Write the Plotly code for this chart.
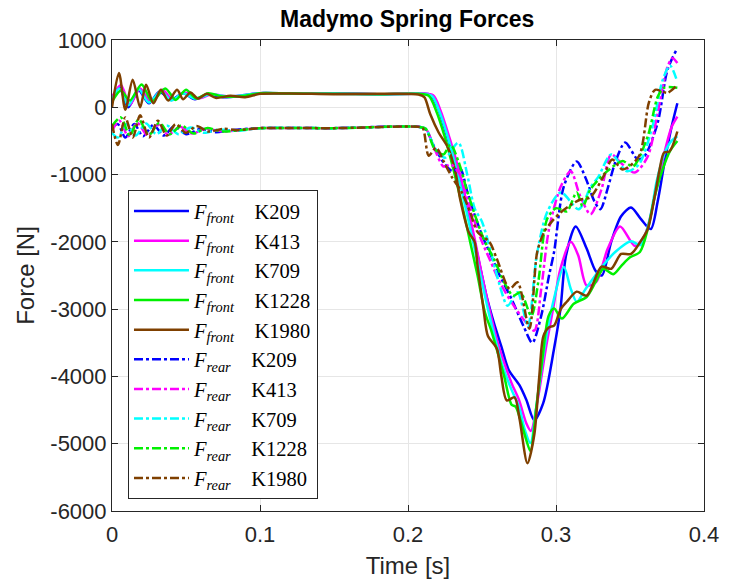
import plotly.graph_objects as go

# ---------------- data ----------------
labels = ["K209", "K413", "K709", "K1228", "K1980"]
colors = ["rgb(0,0,255)", "rgb(255,0,255)", "rgb(0,255,255)", "rgb(0,240,0)", "rgb(127,64,0)"]

# front spring forces (solid)
t_front_k209 = [0, 0.005, 0.011, 0.018, 0.025, 0.032, 0.04, 0.048, 0.056, 0.065, 0.075, 0.09, 0.1, 0.12, 0.15, 0.18, 0.207,
                0.215, 0.22, 0.226, 0.232, 0.238, 0.243, 0.248, 0.253, 0.258, 0.263, 0.268, 0.2753, 0.28, 0.2853, 0.2913,
                0.2987, 0.303, 0.3067, 0.3133, 0.3207, 0.3267, 0.331, 0.3373, 0.344, 0.3507, 0.357, 0.364, 0.3687, 0.3733, 0.378, 0.382]
f_front_k209 = [100, 300, 0, 250, 60, 230, 110, 210, 120, 190, 150, 180, 210, 200, 205, 195, 200,
                190, 0, -400, -850, -1300, -1800, -2300, -2800, -3200, -3550, -3900, -4130, -4350, -4650, -4400,
                -3585, -3000, -2210, -1770, -2100, -2430, -2500, -2000, -1620, -1490, -1650, -1810, -1400, -820, -300, 60]

t_front_k413 = [0, 0.006, 0.012, 0.019, 0.026, 0.034, 0.041, 0.049, 0.058, 0.067, 0.08, 0.1, 0.12, 0.15, 0.18, 0.207,
                0.217, 0.222, 0.228, 0.234, 0.24, 0.245, 0.25, 0.255, 0.26, 0.265, 0.27, 0.275, 0.28, 0.283, 0.288,
                0.293, 0.298, 0.303, 0.31, 0.315, 0.3207, 0.327, 0.335, 0.3433, 0.3533, 0.36, 0.367, 0.373, 0.378, 0.382]
f_front_k413 = [150, 330, 40, 280, 80, 260, 110, 220, 130, 190, 160, 210, 205, 200, 195, 200,
                180, -50, -450, -900, -1450, -1950, -2500, -3000, -3450, -3800, -4100, -4350, -4700, -4810, -4300,
                -3600, -3000, -2400, -2000, -2200, -2650, -2600, -2100, -1770, -2060, -1900, -1300, -700, -300, -140]

t_front_k709 = [0, 0.005, 0.011, 0.018, 0.025, 0.033, 0.04, 0.048, 0.056, 0.066, 0.08, 0.1, 0.12, 0.15, 0.18, 0.207,
                0.216, 0.221, 0.227, 0.233, 0.239, 0.244, 0.249, 0.254, 0.259, 0.264, 0.27, 0.275, 0.279, 0.2827, 0.287,
                0.292, 0.297, 0.3053, 0.31, 0.314, 0.32, 0.33, 0.34, 0.3507, 0.357, 0.363, 0.368, 0.373, 0.378, 0.382]
f_front_k709 = [120, 280, 30, 270, 70, 240, 100, 210, 130, 190, 160, 210, 205, 200, 195, 200,
                170, -50, -450, -950, -1500, -2000, -2500, -3000, -3450, -3850, -4200, -4450, -4800, -4990, -4400,
                -3600, -3000, -2375, -2700, -2890, -2700, -2400, -2150, -1990, -2050, -1700, -1100, -700, -500, -430]

t_front_k1228 = [0, 0.006, 0.012, 0.02, 0.027, 0.036, 0.043, 0.05, 0.057, 0.065, 0.075, 0.09, 0.1, 0.12, 0.15, 0.18, 0.207,
                 0.214, 0.219, 0.225, 0.231, 0.237, 0.242, 0.247, 0.252, 0.256, 0.26, 0.265, 0.27, 0.2727, 0.276, 0.28, 0.2827,
                 0.287, 0.291, 0.295, 0.2987, 0.304, 0.312, 0.3207, 0.3267, 0.332, 0.3387, 0.344, 0.35, 0.3567, 0.362, 0.367,
                 0.372, 0.377, 0.382]
f_front_k1228 = [80, 250, 100, 340, 90, 280, 110, 260, 130, 210, 160, 170, 210, 205, 200, 195, 200,
                 170, -50, -450, -950, -1500, -2000, -2500, -3050, -3300, -3600, -4000, -4420, -4450, -4650, -4950, -5110,
                 -4400, -3700, -3100, -2990, -3140, -2920, -2820, -2600, -2400, -2480, -2360, -2230, -2150, -1810, -1300,
                 -925, -650, -500]

t_front_k1980 = [0, 0.0047, 0.009, 0.014, 0.019, 0.023, 0.028, 0.033, 0.038, 0.044, 0.048, 0.053, 0.058, 0.064, 0.07, 0.08,
                 0.09, 0.1, 0.12, 0.15, 0.18, 0.207, 0.211, 0.215, 0.2207, 0.227, 0.232, 0.2353, 0.241, 0.245, 0.247, 0.251,
                 0.254, 0.26, 0.263, 0.2667, 0.272, 0.2753, 0.2807, 0.2853, 0.2887, 0.2915, 0.2953, 0.2987, 0.3033, 0.3073,
                 0.314, 0.3207, 0.3307, 0.3373, 0.344, 0.3507, 0.357, 0.362, 0.3667, 0.37, 0.373, 0.3767, 0.382]
f_front_k1980 = [0, 510, -35, 408, 0, 334, 60, 260, 100, 260, 120, 220, 130, 200, 140, 170,
                 150, 200, 205, 195, 200, 190, 150, -100, -375, -600, -955, -1370, -1855, -2000, -2357, -2995,
                 -3400, -3585, -3985, -4356, -4310, -4620, -5290, -4870, -4000, -3400, -3270, -3245, -2995, -2890,
                 -2740, -2800, -2370, -2400, -2180, -2180, -2000, -1810, -1320, -925, -675, -655, -360]

# rear spring forces (dash-dot)
t_rear_k209 = [0, 0.004, 0.009, 0.015, 0.021, 0.028, 0.035, 0.042, 0.05, 0.06, 0.07, 0.08, 0.1, 0.15, 0.207,
               0.212, 0.218, 0.225, 0.23, 0.235, 0.24, 0.245, 0.25, 0.256, 0.262, 0.27, 0.278, 0.284, 0.29, 0.2953,
               0.2987, 0.3053, 0.314, 0.32, 0.326, 0.33, 0.335, 0.34, 0.3467, 0.3553, 0.36, 0.3687, 0.3753, 0.382]
f_rear_k209 = [-300, -250, -450, -250, -430, -260, -420, -280, -400, -320, -370, -340, -310, -310, -290,
               -330, -600, -850, -950, -900, -1250, -1600, -1900, -2200, -2500, -2850, -3250, -3500, -3100, -2500,
               -2150, -1175, -805, -1050, -1400, -1515, -1200, -820, -525, -775, -720, -230, 555, 880]

t_rear_k413 = [0, 0.005, 0.011, 0.017, 0.024, 0.031, 0.038, 0.046, 0.054, 0.063, 0.075, 0.09, 0.1, 0.15, 0.207,
               0.212, 0.218, 0.224, 0.229, 0.235, 0.24, 0.245, 0.25, 0.256, 0.262, 0.27, 0.278, 0.2853, 0.29, 0.2953,
               0.3033, 0.31, 0.316, 0.3233, 0.3307, 0.3373, 0.345, 0.3533, 0.362, 0.3687, 0.3753, 0.3787, 0.382]
f_rear_k413 = [-350, -200, -430, -230, -420, -260, -410, -290, -390, -320, -360, -330, -310, -310, -290,
               -320, -620, -880, -850, -1000, -1350, -1700, -2000, -2300, -2600, -2900, -3150, -3320, -2700, -1810,
               -1175, -950, -1300, -1590, -1220, -700, -850, -970, -730, -80, 600, 730, 660]

t_rear_k709 = [0, 0.004, 0.01, 0.016, 0.023, 0.03, 0.037, 0.045, 0.053, 0.062, 0.072, 0.085, 0.1, 0.15, 0.207,
               0.212, 0.218, 0.225, 0.234, 0.24, 0.245, 0.25, 0.256, 0.262, 0.2673, 0.274, 0.281, 0.287, 0.294,
               0.3033, 0.3153, 0.3233, 0.3287, 0.3373, 0.348, 0.356, 0.365, 0.372, 0.377, 0.382]
f_rear_k709 = [-380, -450, -250, -420, -240, -400, -270, -400, -300, -380, -330, -350, -310, -310, -290,
               -320, -600, -750, -525, -1000, -1500, -1700, -2150, -2650, -2950, -2750, -3250, -2200, -1560,
               -1265, -1515, -1190, -1030, -700, -950, -850, -300, 400, 620, 380]

t_rear_k1228 = [0, 0.006, 0.012, 0.018, 0.025, 0.032, 0.039, 0.047, 0.055, 0.064, 0.075, 0.09, 0.1, 0.15, 0.207,
                0.212, 0.218, 0.224, 0.2287, 0.234, 0.24, 0.246, 0.252, 0.258, 0.265, 0.271, 0.276, 0.2833, 0.288,
                0.294, 0.3, 0.3073, 0.314, 0.318, 0.3233, 0.3307, 0.336, 0.345, 0.352, 0.362, 0.3687, 0.373, 0.382]
f_rear_k1228 = [-280, -150, -420, -180, -410, -230, -400, -270, -390, -310, -360, -330, -310, -310, -290,
                -320, -620, -700, -555, -800, -1250, -1650, -2000, -2250, -2600, -2800, -2750, -3100, -2600,
                -1660, -1500, -1545, -1265, -1470, -1220, -1030, -925, -800, -880, -430, 155, 290, 290]

t_rear_k1980 = [0, 0.004, 0.009, 0.014, 0.019, 0.025, 0.031, 0.037, 0.043, 0.05, 0.057, 0.065, 0.075, 0.085, 0.1, 0.15,
                0.207, 0.21, 0.214, 0.219, 0.224, 0.23, 0.236, 0.242, 0.247, 0.255, 0.26, 0.2687, 0.274, 0.282, 0.2873,
                0.292, 0.2967, 0.3033, 0.3107, 0.3167, 0.323, 0.332, 0.338, 0.345, 0.356, 0.3627, 0.367, 0.3753, 0.382]
f_rear_k1980 = [-250, -560, -150, -450, -120, -450, -200, -420, -250, -380, -280, -360, -320, -340, -310, -310,
                -290, -310, -720, -600, -800, -1050, -1250, -1560, -1855, -2000, -2250, -2700, -2600, -3290, -2150,
                -1855, -1710, -1560, -1440, -1370, -1340, -1030, -775, -925, -730, 65, 260, 215, 335]

front_t = [t_front_k209, t_front_k413, t_front_k709, t_front_k1228, t_front_k1980]
front_f = [f_front_k209, f_front_k413, f_front_k709, f_front_k1228, f_front_k1980]
rear_t = [t_rear_k209, t_rear_k413, t_rear_k709, t_rear_k1228, t_rear_k1980]
rear_f = [f_rear_k209, f_rear_k413, f_rear_k709, f_rear_k1228, f_rear_k1980]

x_ticks = [0, 0.1, 0.2, 0.3, 0.4]
y_ticks = [1000, 0, -1000, -2000, -3000, -4000, -5000, -6000]

# ---------------- figure ----------------
fig = go.Figure()
for lab, col, tt, ff in zip(labels, colors, front_t, front_f):
    fig.add_trace(go.Scatter(x=tt, y=ff, mode="lines",
                             line=dict(color=col, width=2.5, shape="spline", smoothing=0.8),
                             name="<i>F</i><sub><i>front</i></sub>\u00a0\u00a0\u00a0\u00a0" + lab))
for lab, col, tt, ff in zip(labels, colors, rear_t, rear_f):
    fig.add_trace(go.Scatter(x=tt, y=ff, mode="lines",
                             line=dict(color=col, width=2.5, dash="dashdot", shape="spline", smoothing=0.8),
                             name="<i>F</i><sub><i>rear</i></sub>\u00a0\u00a0\u00a0\u00a0" + lab))

axis_common = dict(showline=True, linecolor="#262626", linewidth=1, mirror="ticks",
                   ticks="inside", ticklen=6, tickcolor="#262626",
                   showgrid=True, gridcolor="#e6e6e6", gridwidth=1, zeroline=False,
                   tickfont=dict(family="Liberation Sans, Arial", size=22, color="#262626"),
                   title_font=dict(family="Liberation Sans, Arial", size=24, color="#262626"))

fig.update_layout(
    width=731, height=586,
    margin=dict(l=112, r=19, t=40, b=73),
    paper_bgcolor="white", plot_bgcolor="white",
    title=dict(text="<b>Madymo Spring Forces</b>", x=0.557, xanchor="center", y=0.968, yanchor="middle",
               font=dict(family="Liberation Sans, Arial", size=23, color="black")),
    xaxis=dict(range=[0, 0.4], tickvals=x_ticks, ticktext=[str(v) for v in x_ticks],
               ticklabelstandoff=4,
               title=dict(text="Time [s]", standoff=10), **axis_common),
    yaxis=dict(range=[-6000, 1000], tickvals=y_ticks, ticktext=[str(v) for v in y_ticks],
               title=dict(text="Force [N]", standoff=8), **axis_common),
    legend=dict(x=0.027, y=0.681, xanchor="left", yanchor="top",
                bgcolor="white", bordercolor="#262626", borderwidth=1,
                font=dict(family="Liberation Serif, DejaVu Serif", size=20.5, color="black"),
                itemwidth=55, tracegroupgap=0),
    showlegend=True,
)

fig.write_html("out.html")
